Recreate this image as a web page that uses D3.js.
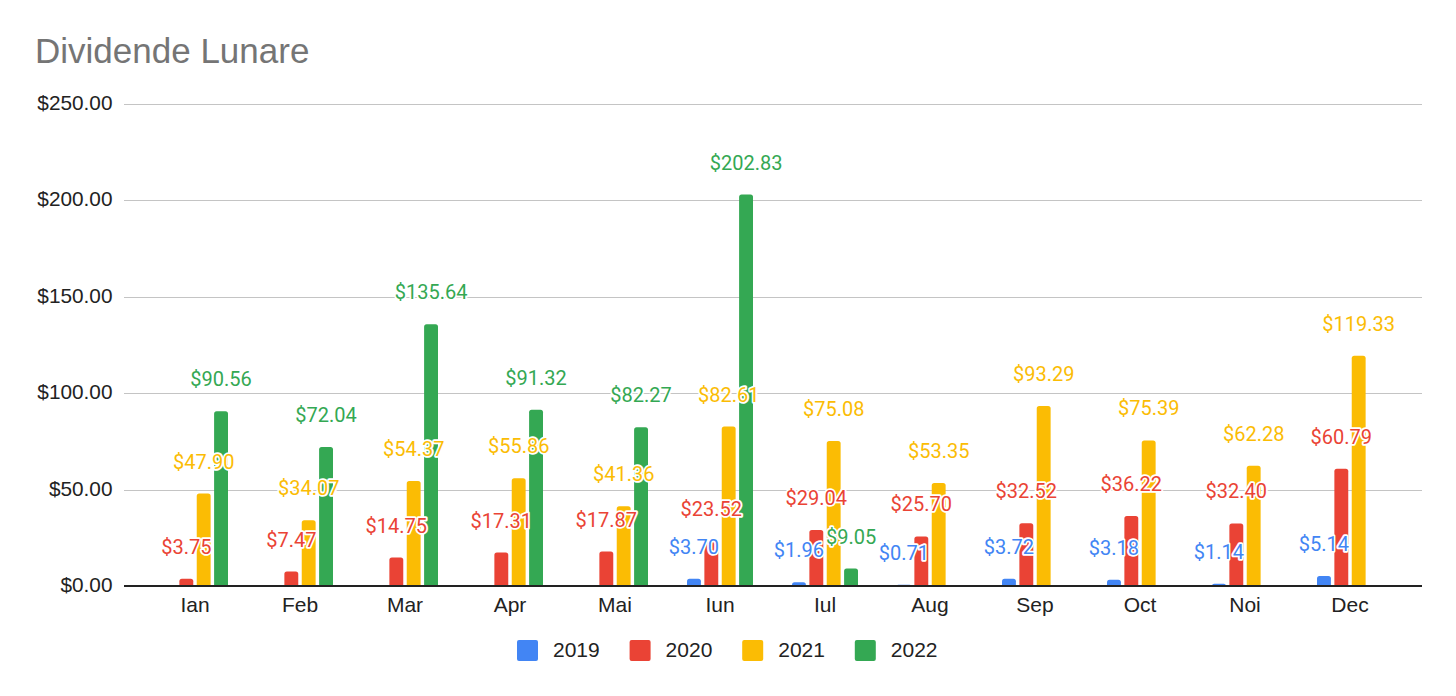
<!DOCTYPE html>
<html>
<head>
<meta charset="utf-8">
<script src="https://cdn.jsdelivr.net/npm/d3@7"></script>
<style>
  html, body { margin: 0; padding: 0; background: #fff; }
  svg { display: block; }
</style>
</head>
<body>
<div id="chart"></div>
<script>
// chart data
const months = ['Ian', 'Feb', 'Mar', 'Apr', 'Mai', 'Iun', 'Iul', 'Aug', 'Sep', 'Oct', 'Noi', 'Dec'];
const years = ['2019', '2020', '2021', '2022'];
const values2019 = [null, null, null, null, null, 3.70, 1.96, 0.71, 3.72, 3.18, 1.14, 5.14];
const values2020 = [3.75, 7.47, 14.75, 17.31, 17.87, 23.52, 29.04, 25.70, 32.52, 36.22, 32.40, 60.79];
const values2021 = [47.90, 34.07, 54.37, 55.86, 41.36, 82.61, 75.08, 53.35, 93.29, 75.39, 62.28, 119.33];
const values2022 = [90.56, 72.04, 135.64, 91.32, 82.27, 202.83, 9.05, null, null, null, null, null];
const yTicks = [0, 50, 100, 150, 200, 250];

const series = [values2019, values2020, values2021, values2022];
const colors = ['#4285F4', '#EA4335', '#FBBC04', '#34A853'];

const width = 1456, height = 696;
const plotLeft = 124, plotRight = 1422;
const sans = 'Liberation Sans, Arial, sans-serif';

const svg = d3.select('#chart').append('svg')
  .attr('width', width)
  .attr('height', height)
  .attr('viewBox', [0, 0, width, height]);

// Title
svg.append('text')
  .attr('x', 35)
  .attr('y', 63)
  .attr('font-family', sans)
  .attr('font-size', 35)
  .attr('fill', '#757575')
  .text('Dividende Lunare');

const x = d3.scaleBand()
  .domain(months)
  .range([142.5, 1402.5])
  .padding(0);

const xs = d3.scaleBand()
  .domain(years)
  .range([-33, 33])
  .paddingInner(0.2);

const y = d3.scaleLinear()
  .domain([0, 250])
  .range([586, 103.5]);

const fmt = d3.format('$,.2f');

// Gridlines
svg.append('g')
  .selectAll('line')
  .data(yTicks.filter(d => d > 0))
  .join('line')
  .attr('x1', plotLeft)
  .attr('x2', plotRight)
  .attr('y1', d => Math.round(y(d)) + 0.5)
  .attr('y2', d => Math.round(y(d)) + 0.5)
  .attr('stroke', '#c4c4c4')
  .attr('stroke-width', 1.2);

// Y axis labels
svg.append('g')
  .selectAll('text')
  .data(yTicks)
  .join('text')
  .attr('x', 112.5)
  .attr('y', d => y(d) + 6)
  .attr('text-anchor', 'end')
  .attr('font-family', sans)
  .attr('font-size', 20.8)
  .attr('fill', '#222')
  .text(d => fmt(d));

// Bars with rounded top corners
const barData = [];
series.forEach((vals, si) => {
  vals.forEach((v, mi) => {
    if (v === null) return;
    barData.push({ month: months[mi], year: years[si], value: v, color: colors[si] });
  });
});

const bw = xs.bandwidth();
const barPath = d => {
  const cx = x(d.month) + x.bandwidth() / 2;
  const x0 = cx + xs(d.year);
  const x1 = x0 + bw;
  const y0 = y(0);
  const y1 = y(d.value);
  const r = Math.min(2.5, (y0 - y1));
  return `M${x0},${y0}L${x0},${y1 + r}Q${x0},${y1} ${x0 + r},${y1}` +
    `L${x1 - r},${y1}Q${x1},${y1} ${x1},${y1 + r}L${x1},${y0}Z`;
};

svg.append('g')
  .selectAll('path')
  .data(barData)
  .join('path')
  .attr('d', barPath)
  .attr('fill', d => d.color);

// Baseline
svg.append('line')
  .attr('x1', plotLeft)
  .attr('x2', plotRight)
  .attr('y1', y(0))
  .attr('y2', y(0))
  .attr('stroke', '#222')
  .attr('stroke-width', 2);

// Data labels
svg.append('g')
  .selectAll('text')
  .data(barData)
  .join('text')
  .attr('x', d => x(d.month) + x.bandwidth() / 2 + xs(d.year) + bw / 2)
  .attr('y', d => y(d.value) - 25)
  .attr('text-anchor', 'middle')
  .attr('font-family', 'Roboto, sans-serif')
  .attr('font-size', 20)
  .attr('fill', d => d.color)
  .attr('stroke', '#fff')
  .attr('stroke-width', 3.5)
  .attr('stroke-linejoin', 'round')
  .attr('paint-order', 'stroke')
  .text(d => fmt(d.value));

// X axis labels
svg.append('g')
  .selectAll('text')
  .data(months)
  .join('text')
  .attr('x', d => x(d) + x.bandwidth() / 2)
  .attr('y', 612)
  .attr('text-anchor', 'middle')
  .attr('font-family', sans)
  .attr('font-size', 21)
  .attr('fill', '#222')
  .text(d => d);

// Legend
const legend = svg.append('g');
const itemW = 112.6;
const legendStart = 517;
years.forEach((yr, i) => {
  const g = legend.append('g').attr('transform', `translate(${legendStart + i * itemW},640)`);
  g.append('rect')
    .attr('width', 21)
    .attr('height', 21)
    .attr('rx', 2)
    .attr('fill', colors[i]);
  g.append('text')
    .attr('x', 36)
    .attr('y', 17)
    .attr('font-family', sans)
    .attr('font-size', 21)
    .attr('fill', '#222')
    .text(yr);
});
</script>
</body>
</html>
